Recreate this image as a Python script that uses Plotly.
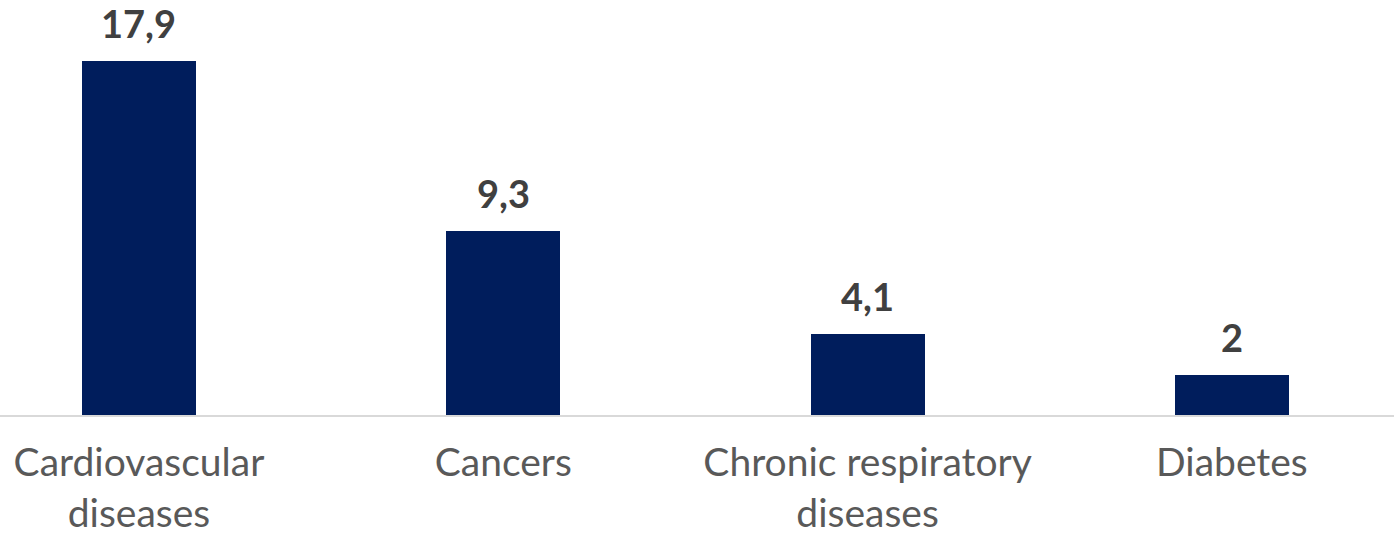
import plotly.graph_objects as go

categories = ["Cardiovascular<br>diseases", "Cancers", "Chronic respiratory<br>diseases", "Diabetes"]
values = [17.9, 9.3, 4.1, 2]
value_labels = ["17,9", "9,3", "4,1", "2"]

xpos = list(range(len(categories)))

fig = go.Figure()
fig.add_trace(go.Bar(
    x=xpos, y=values, width=0.313,
    marker=dict(color="#001D5C", line=dict(width=0)),
    hoverinfo="skip",
))

for x, v, t in zip(xpos, values, value_labels):
    fig.add_annotation(x=x, y=v, text="<b>%s</b>" % t, showarrow=False,
                       yanchor="bottom", yshift=14, borderpad=0,
                       font=dict(family="Lato, sans-serif", size=38, color="#404040"))

fig.update_layout(
    width=1394, height=540,
    margin=dict(l=0, r=0, t=0, b=125, autoexpand=False),
    paper_bgcolor="white", plot_bgcolor="white",
    showlegend=False,
    bargap=0,
    xaxis=dict(range=[-0.3815, 3.445], tickmode="array", tickvals=xpos, ticktext=categories,
               showgrid=False, zeroline=False, showline=True, linecolor="#D9D9D9", linewidth=2,
               ticks="", tickfont=dict(family="Lato, sans-serif", size=39, color="#595959"),
               ticklabelstandoff=12, automargin=False),
    yaxis=dict(range=[0, 20.98], visible=False, showgrid=False, zeroline=False, automargin=False),
)

fig.write_html("out.html")
